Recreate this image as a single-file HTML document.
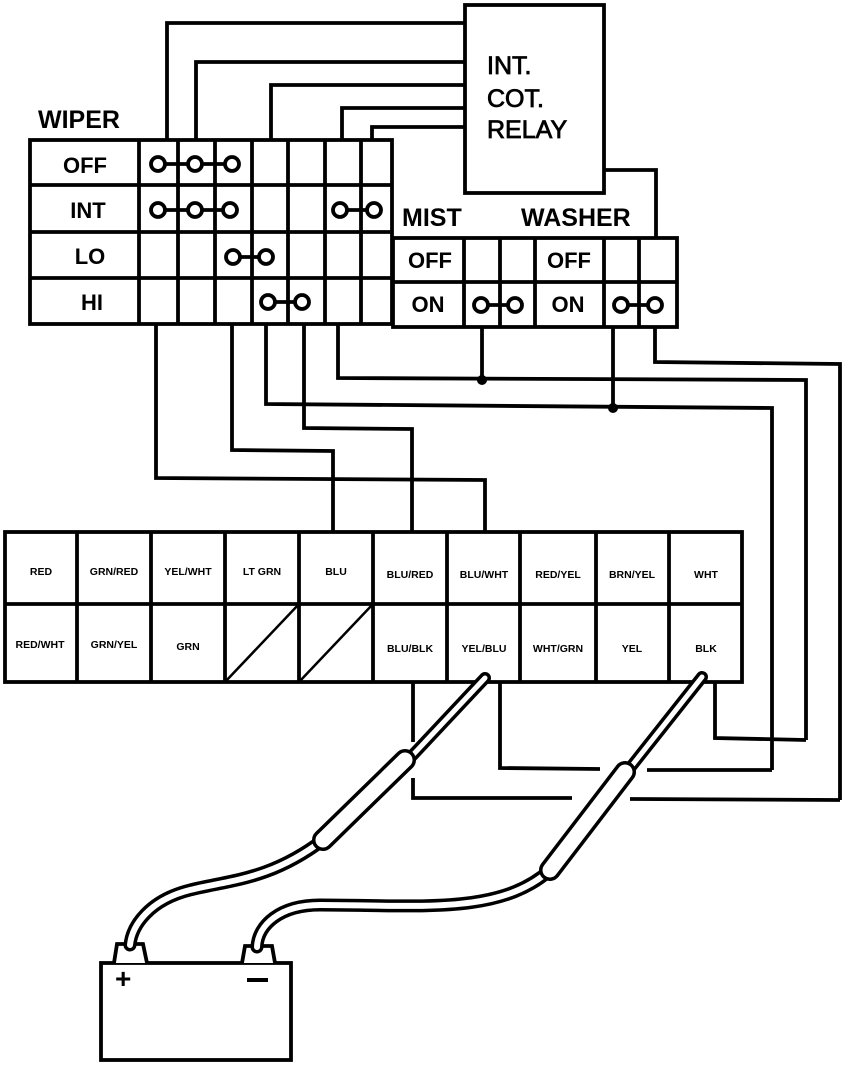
<!DOCTYPE html>
<html><head><meta charset="utf-8"><style>
html,body{margin:0;padding:0;background:#fff;}
svg{display:block;}
text{font-family:"Liberation Sans",Arial,sans-serif;fill:#000;}
.b{font-weight:bold;}
</style></head><body>
<svg width="864" height="1066" viewBox="0 0 864 1066" xmlns="http://www.w3.org/2000/svg">
<g fill="none" stroke="#000" stroke-width="3.8" stroke-linejoin="miter">
<rect x="465" y="5" width="139" height="188"/>
<polyline points="465,23 167,23 167,140"/>
<polyline points="465,62 196,62 196,140"/>
<polyline points="465,85 271,85 271,140"/>
<polyline points="465,108 342,108 342,140"/>
<polyline points="465,127 372,127 372,140"/>
<polyline points="604,170 656,170 656,238"/>
<rect x="30" y="140" width="362" height="184"/>
<line x1="30" y1="185" x2="392" y2="185"/>
<line x1="30" y1="232" x2="392" y2="232"/>
<line x1="30" y1="278" x2="392" y2="278"/>
<line x1="139" y1="140" x2="139" y2="324"/>
<line x1="178" y1="140" x2="178" y2="324"/>
<line x1="215" y1="140" x2="215" y2="324"/>
<line x1="252" y1="140" x2="252" y2="324"/>
<line x1="288" y1="140" x2="288" y2="324"/>
<line x1="325" y1="140" x2="325" y2="324"/>
<line x1="361" y1="140" x2="361" y2="324"/>
<rect x="393" y="238" width="284" height="89"/>
<line x1="393" y1="282" x2="677" y2="282"/>
<line x1="464" y1="238" x2="464" y2="327"/>
<line x1="500" y1="238" x2="500" y2="327"/>
<line x1="535" y1="238" x2="535" y2="327"/>
<line x1="604" y1="238" x2="604" y2="327"/>
<line x1="639" y1="238" x2="639" y2="327"/>
<polyline points="156,324 156,478 485,480 485,532"/>
<polyline points="232,324 232,450 333,451 333,532"/>
<polyline points="266,324 266,404 772,408 772,770"/>
<polyline points="304,324 304,428 412,429 412,532"/>
<polyline points="338,324 338,378 806,380 806,740"/>
<line x1="482" y1="327" x2="482" y2="380"/>
<line x1="613" y1="327" x2="613" y2="408"/>
<polyline points="655,327 655,362 840,364 840,800"/>
<rect x="5" y="532" width="737" height="150"/>
<line x1="5" y1="604" x2="742" y2="604"/>
<line x1="77" y1="532" x2="77" y2="682"/>
<line x1="151" y1="532" x2="151" y2="682"/>
<line x1="225" y1="532" x2="225" y2="682"/>
<line x1="299" y1="532" x2="299" y2="682"/>
<line x1="373" y1="532" x2="373" y2="682"/>
<line x1="447" y1="532" x2="447" y2="682"/>
<line x1="520" y1="532" x2="520" y2="682"/>
<line x1="596" y1="532" x2="596" y2="682"/>
<line x1="669" y1="532" x2="669" y2="682"/>
<line x1="225" y1="682" x2="299" y2="604" stroke-width="2.5"/>
<line x1="299" y1="682" x2="373" y2="604" stroke-width="2.5"/>
<polyline points="413,682 413,742"/>
<polyline points="413,778 413,798 572,798"/>
<line x1="630" y1="799" x2="840" y2="800"/>
<polyline points="500,682 500,768 600,769"/>
<line x1="647" y1="770" x2="772" y2="770"/>
<polyline points="715,682 715,738 806,740"/>
<rect x="101" y="963" width="190" height="97"/>
<path d="M114,963 L117,944 L143,944 L147,963" fill="#fff"/>
<path d="M242,963 L245,946 L272,946 L275,963" fill="#fff"/>
</g>
<g fill="none" stroke-linecap="round">
<path d="M323,840 C270,880 230,880 190,890 C150,900 132,925 130,945" stroke="#000" stroke-width="13"/>
<path d="M323,840 C270,880 230,880 190,890 C150,900 132,925 130,945" stroke="#fff" stroke-width="6"/>
<path d="M550,870 C500,915 420,905 320,905 C280,905 258,925 257,947" stroke="#000" stroke-width="13"/>
<path d="M550,870 C500,915 420,905 320,905 C280,905 258,925 257,947" stroke="#fff" stroke-width="6"/>
<line x1="485" y1="678" x2="410" y2="758" stroke="#000" stroke-width="12"/>
<line x1="485" y1="678" x2="410" y2="758" stroke="#fff" stroke-width="5"/>
<line x1="405" y1="760" x2="323" y2="840" stroke="#000" stroke-width="22"/>
<line x1="405" y1="760" x2="323" y2="840" stroke="#fff" stroke-width="15"/>
<line x1="702" y1="677" x2="630" y2="768" stroke="#000" stroke-width="12"/>
<line x1="702" y1="677" x2="630" y2="768" stroke="#fff" stroke-width="5"/>
<line x1="625" y1="772" x2="550" y2="870" stroke="#000" stroke-width="22"/>
<line x1="625" y1="772" x2="550" y2="870" stroke="#fff" stroke-width="15"/>
</g>
<g fill="#fff" stroke="#000" stroke-width="3.8">
<line x1="158" y1="164" x2="232" y2="164"/>
<circle cx="158" cy="164" r="7"/><circle cx="195" cy="164" r="7"/><circle cx="232" cy="164" r="7"/>
<line x1="158" y1="210" x2="230" y2="210"/>
<circle cx="158" cy="210" r="7"/><circle cx="195" cy="210" r="7"/><circle cx="230" cy="210" r="7"/>
<line x1="340" y1="210" x2="374" y2="210"/>
<circle cx="340" cy="210" r="7"/><circle cx="374" cy="210" r="7"/>
<line x1="233" y1="257" x2="266" y2="257"/>
<circle cx="233" cy="257" r="7"/><circle cx="266" cy="257" r="7"/>
<line x1="268" y1="302" x2="302" y2="302"/>
<circle cx="268" cy="302" r="7"/><circle cx="302" cy="302" r="7"/>
<line x1="481" y1="305" x2="515" y2="305"/>
<circle cx="481" cy="305" r="7"/><circle cx="515" cy="305" r="7"/>
<line x1="621" y1="305" x2="655" y2="305"/>
<circle cx="621" cy="305" r="7"/><circle cx="655" cy="305" r="7"/>
</g>
<circle cx="482" cy="380" r="5"/>
<circle cx="613" cy="408" r="5"/>
<g font-size="25">
<text x="38" y="128" class="b">WIPER</text>
<text x="487" y="74" stroke="#000" stroke-width="0.8">INT.</text>
<text x="487" y="107" stroke="#000" stroke-width="0.8">COT.</text>
<text x="487" y="138" stroke="#000" stroke-width="0.8">RELAY</text>
<text x="402" y="226" class="b">MIST</text>
<text x="521" y="226" class="b">WASHER</text>
</g>
<g font-size="22" text-anchor="middle" class="b">
<text x="85" y="173">OFF</text>
<text x="88" y="218">INT</text>
<text x="90" y="264">LO</text>
<text x="92" y="310">HI</text>
<text x="430" y="268">OFF</text>
<text x="428" y="312">ON</text>
<text x="569" y="268">OFF</text>
<text x="568" y="312">ON</text>
</g>
<g font-size="10.5" class="b" text-anchor="middle">
<text x="41" y="575">RED</text>
<text x="114" y="575">GRN/RED</text>
<text x="188" y="575">YEL/WHT</text>
<text x="262" y="575">LT GRN</text>
<text x="336" y="575">BLU</text>
<text x="410" y="578">BLU/RED</text>
<text x="484" y="578">BLU/WHT</text>
<text x="558" y="578">RED/YEL</text>
<text x="632" y="578">BRN/YEL</text>
<text x="706" y="578">WHT</text>
<text x="40" y="648">RED/WHT</text>
<text x="114" y="648">GRN/YEL</text>
<text x="188" y="650">GRN</text>
<text x="410" y="652">BLU/BLK</text>
<text x="484" y="652">YEL/BLU</text>
<text x="558" y="652">WHT/GRN</text>
<text x="632" y="652">YEL</text>
<text x="706" y="652">BLK</text>
</g>
<text x="115" y="988" font-size="28" class="b">+</text>
<line x1="247" y1="980" x2="268" y2="980" stroke="#000" stroke-width="4"/>
</svg>
</body></html>
